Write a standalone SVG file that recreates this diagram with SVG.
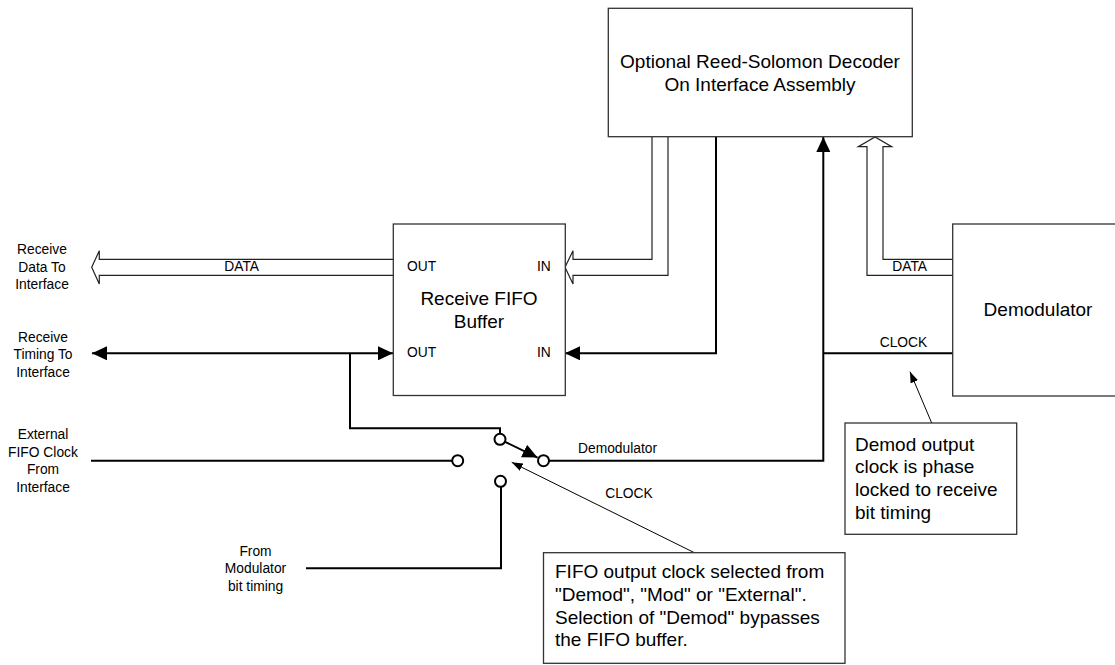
<svg xmlns="http://www.w3.org/2000/svg" width="1115" height="665" viewBox="0 0 1115 665">
<defs>
<style>
.box{fill:#fff;stroke:#333;stroke-width:1.3}
.thick{fill:none;stroke:#000;stroke-width:2}
.thin{fill:none;stroke:#000;stroke-width:1}
.hollow{fill:#fff;stroke:#222;stroke-width:1.2}
.term{fill:#fff;stroke:#000;stroke-width:2}
text{font-family:"Liberation Sans",Arial,sans-serif;fill:#000}
.lg{font-size:19px}
.sm{font-size:13.8px}
.mid{text-anchor:middle}
</style>
<marker id="ah" viewBox="0 0 15 14" markerWidth="15" markerHeight="14" refX="15" refY="7" orient="auto-start-reverse" markerUnits="userSpaceOnUse">
<path d="M0,0 L15,7 L0,14 z" fill="#000"/>
</marker>
<marker id="ahs" viewBox="0 0 11 8" markerWidth="11" markerHeight="8" refX="11" refY="4" orient="auto" markerUnits="userSpaceOnUse">
<path d="M0,0 L11,4 L0,8 z" fill="#000"/>
</marker>
</defs>
<rect width="1115" height="665" fill="#fff"/>

<g id="connectors">
<path class="hollow" d="M393,259.3 H99.3 V250.7 L91.7,267.3 L99.3,283.9 V275.3 H393"/>
<path class="hollow" d="M652,137 V259.3 H573 V250.7 L565,267.3 L573,283.9 V275.3 H668 V137"/>
<path class="hollow" d="M953,259.3 H883 V146.7 H891.7 L875,137 L858.3,146.7 H867 V275.3 H953"/>
<path class="thick" d="M92,353.3 H393" marker-start="url(#ah)" marker-end="url(#ah)"/>
<path class="thick" d="M350,353.3 V428.3 H500 V434"/>
<path class="thick" d="M716,137 V353.3 H565" marker-end="url(#ah)"/>
<path class="thick" d="M549,460.7 H823.3 V137" marker-end="url(#ah)"/>
<path class="thick" d="M823.3,353.3 H953"/>
<path class="thick" d="M91,460.7 H452"/>
<path class="thick" d="M306,568.3 H501 V487"/>
<path class="thick" d="M505,441.8 L537.5,457.6" marker-end="url(#ah)"/>
<path class="thin" d="M695,553 L511.7,462.3" marker-end="url(#ahs)"/>
<path class="thin" d="M931.7,423 L910,371.7" marker-end="url(#ahs)"/>
</g>

<g id="switch">
<circle class="term" cx="500" cy="439.3" r="5.5"/>
<circle class="term" cx="457.7" cy="460.7" r="5.5"/>
<circle class="term" cx="543.5" cy="460.7" r="5.5"/>
<circle class="term" cx="500.5" cy="481.3" r="5.5"/>
</g>

<g id="rs-decoder">
<rect class="box" x="608.3" y="8.3" width="304" height="128.4"/>
<text class="lg mid" x="760" y="68">Optional Reed-Solomon Decoder</text>
<text class="lg mid" x="760" y="90.5">On Interface Assembly</text>
</g>

<g id="fifo">
<rect class="box" x="393.3" y="224" width="172" height="171.5"/>
<text class="sm" x="407" y="271">OUT</text>
<text class="sm" x="537" y="271">IN</text>
<text class="lg mid" x="479" y="305">Receive FIFO</text>
<text class="lg mid" x="479" y="327.5">Buffer</text>
<text class="sm" x="407" y="357.3">OUT</text>
<text class="sm" x="537" y="357.3">IN</text>
</g>

<g id="demodulator">
<rect class="box" x="952.7" y="224" width="170" height="172"/>
<text class="lg mid" x="1038" y="316">Demodulator</text>
</g>

<g id="labels">
<text class="sm mid" x="42" y="254.3">Receive</text>
<text class="sm mid" x="42" y="271.7">Data To</text>
<text class="sm mid" x="42" y="289">Interface</text>
<text class="sm mid" x="43" y="341.7">Receive</text>
<text class="sm mid" x="43" y="359.2">Timing To</text>
<text class="sm mid" x="43" y="376.7">Interface</text>
<text class="sm mid" x="43" y="439">External</text>
<text class="sm mid" x="43" y="456.5">FIFO Clock</text>
<text class="sm mid" x="43" y="474">From</text>
<text class="sm mid" x="43" y="491.5">Interface</text>
<text class="sm mid" x="255.5" y="556">From</text>
<text class="sm mid" x="255.5" y="573.3">Modulator</text>
<text class="sm mid" x="255.5" y="590.6">bit timing</text>
<text class="sm mid" x="241.7" y="271">DATA</text>
<text class="sm mid" x="909.7" y="271">DATA</text>
<text class="sm mid" x="903.5" y="346.7">CLOCK</text>
<text class="sm mid" x="629" y="497.7">CLOCK</text>
<text class="sm" x="578" y="453">Demodulator</text>
</g>

<g id="fifo-callout">
<rect class="box" x="543.5" y="552.7" width="301.5" height="110.6"/>
<text class="lg" x="555" y="578.3">FIFO output clock selected from</text>
<text class="lg" x="555" y="601">"Demod", "Mod" or "External".</text>
<text class="lg" x="555" y="623.7">Selection of "Demod" bypasses</text>
<text class="lg" x="555" y="646.4">the FIFO buffer.</text>
</g>

<g id="demod-callout">
<rect class="box" x="845" y="423" width="171.7" height="111.3"/>
<text class="lg" x="855" y="450.7">Demod output</text>
<text class="lg" x="855" y="473.4">clock is phase</text>
<text class="lg" x="855" y="496.1">locked to receive</text>
<text class="lg" x="855" y="518.8">bit timing</text>
</g>
</svg>
